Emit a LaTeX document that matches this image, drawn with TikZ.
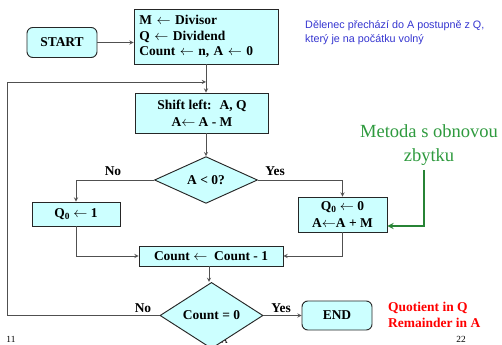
\documentclass[tikz,border=0pt]{standalone}
\usepackage{amsmath}
\usepackage{fontspec}
\setmainfont{Liberation Serif}
\newfontfamily\notefont{Liberation Sans}
\usetikzlibrary{shapes.geometric, arrows, positioning}
\definecolor{boxfill}{HTML}{CCFFFF}
\definecolor{notegreen}{HTML}{2E9A3E}
\definecolor{noteblue}{HTML}{3535D0}
\definecolor{linegray}{HTML}{505050}
\tikzset{
    process/.style={rectangle, minimum width=4.32cm, minimum height=0.6cm, inner sep=1pt, align=center, draw=black!85, line width=0.8pt, fill=boxfill, font=\fontsize{11.5}{14.5}\selectfont\bfseries},
    startstop/.style={process, rounded corners=5pt, minimum width=2.1cm, minimum height=0.9cm},
    decision/.style={diamond, minimum width=3.09cm, minimum height=1.32cm, inner sep=0pt, align=center, draw=black!85, line width=0.8pt, fill=boxfill, font=\fontsize{11.5}{13.5}\selectfont\bfseries},
    branch/.style={font=\fontsize{11.5}{13.5}\selectfont\bfseries},
    arrow/.style={draw=linegray, line width=0.6pt, ->, >=stealth},
    greenarrow/.style={draw=notegreen!85!black, line width=1.3pt, ->, >=stealth},
    footer/.style={font=\fontsize{8}{9}\selectfont, inner sep=0pt}
}

\begin{document}
\begin{tikzpicture}[x=0.03cm, y=-0.03cm]
    \useasboundingbox (0,0) rectangle (502,345);

    % Footer
    \node[footer] (pagel) at (11,339) {11};
    \node[footer] (pagec) at (219,340.5) {UPA};
    \node[footer] (pager) at (461,339) {22};

    % Boxes
    \node[startstop] (start) at (62,42.5) {START};
    \node[process, align=left, minimum height=1.65cm, text width=4.0cm, font=\fontsize{11.5}{13.5}\selectfont\bfseries] (init) at (206,36.5)
        {M $\leftarrow$ Divisor\\Q $\leftarrow$ Dividend\\Count $\leftarrow$ n, A $\leftarrow$ 0};
    \node[process, minimum width=3.99cm, minimum height=1.2cm] (shift) at (202,113)
        {Shift left:~ A, Q\\A$\leftarrow$ A - M};
    \node[decision] (sign) at (206,180) {A < 0?};
    \node[process, minimum width=2.64cm, minimum height=0.72cm] (setone) at (76,214) {Q\textsubscript{0} $\leftarrow$ 1};
    \node[process, minimum width=2.67cm, minimum height=1.05cm] (restore) at (342.5,214.5)
        {Q\textsubscript{0} $\leftarrow$ 0\\A$\leftarrow$A + M};
    \node[process, minimum height=0.6cm] (count) at (211,256) {Count $\leftarrow$~ Count - 1};
    \node[decision, minimum height=1.47cm] (zero) at (211.5,315.5) {Count = 0};
    \node[startstop, minimum height=0.87cm] (end) at (337,315.5) {END};

    % Branch labels
    \node[branch] (signno) at (113,171) {No};
    \node[branch] (signyes) at (275,171) {Yes};
    \node[branch] (zerono) at (143,308) {No};
    \node[branch] (zeroyes) at (281,308) {Yes};

    % Notes
    \node[anchor=west, align=left, inner sep=0pt, text=red, font=\fontsize{11.5}{13.5}\selectfont\bfseries] (result) at (388,315)
        {Quotient in Q\\Remainder in A};
    \node[align=center, inner sep=0pt, text=notegreen, font=\fontsize{15.8}{20.5}\selectfont] (method) at (429,145)
        {Metoda s obnovou\\zbytku};
    \node[anchor=west, align=left, inner sep=0pt, text=noteblue, font=\notefont\fontsize{9.2}{12.5}\selectfont] (dividend) at (305,32.5)
        {Dělenec přechází do A postupně z Q,\\který je na počátku volný};

    % Connectors
    \coordinate (join) at (206,82);
    \coordinate (loopcorner) at (7,82);
    \coordinate (greentop) at (424,170);
    \coordinate (greenbend) at (424,226);
    \draw[arrow] (start.east) -- (start.east -| init.west);
    \draw[arrow] (init.south -| join) -- (join |- shift.north);
    \draw[arrow] (join |- shift.south) -- (sign.north);
    \draw[arrow] (sign.west) -| (setone.north);
    \draw[arrow] (sign.east) -| (restore.north);
    \draw[arrow] (setone.south) |- (count.west);
    \draw[arrow] (restore.south) |- (count.east);
    \draw[arrow] (209,0 |- count.south) -- (209,0 |- zero.north);
    \draw[arrow] (zero.east) -- (end.west);
    \draw[arrow] (zero.west) -| (loopcorner) -- (join);
    \draw[greenarrow] (greentop) -- (greenbend) -- (greenbend -| restore.east);
\end{tikzpicture}
\end{document}
